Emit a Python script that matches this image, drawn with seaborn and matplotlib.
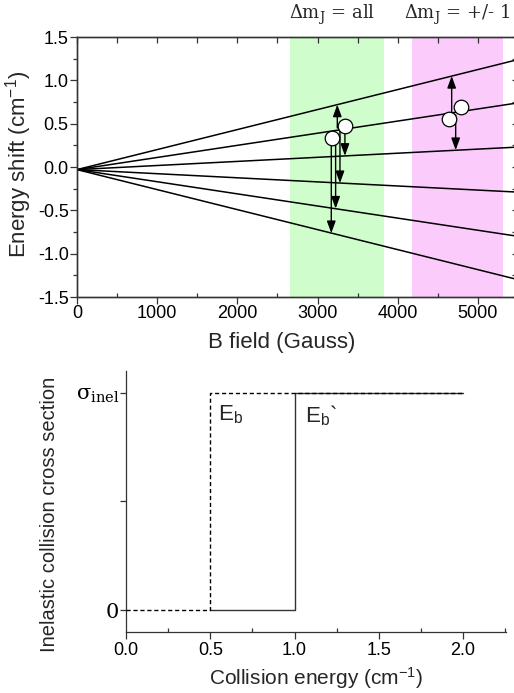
import numpy as np
import pandas as pd
import matplotlib
matplotlib.use("Agg")
import matplotlib.pyplot as plt
import seaborn as sns
from matplotlib.ticker import MultipleLocator

# ---------------- data ----------------
# Zeeman levels: straight lines from a common origin
level_B = [0, 5500]
level_start = -0.03
level_end = [1.24, 0.74, 0.23, -0.29, -0.80, -1.30]

# shaded field regions (Gauss)
green_band = (2650, 3825)
pink_band = (4175, 5310)

# circles (trapped states)
circle_B = [3184, 3337, 4641, 4787]
circle_E = [0.335, 0.476, 0.554, 0.688]

# transition arrows: x, start, end
arrow_B = [3246, 3341, 3279, 3225, 3171, 4672, 4722]
arrow_E0 = [0.45, 0.476, 0.476, 0.335, 0.335, 0.60, 0.60]
arrow_E1 = [0.72, 0.129, -0.186, -0.48, -0.763, 1.05, 0.195]

band_labels = ["Δm$\\mathregular{_J}$ = all", "Δm$\\mathregular{_J}$ = +/- 1"]

# step cross sections
coll_E_dash = [0.0, 0.5, 0.5, 2.0]
sigma_dash = [0, 0, 1, 1]
coll_E_solid = [0.5, 1.0, 1.0, 2.0]
sigma_solid = [0, 0, 1, 1]

# ---------------- style ----------------
sns.set_style("ticks")
plt.rcParams["font.family"] = ["Liberation Sans", "DejaVu Sans"]
plt.rcParams["axes.edgecolor"] = "#333333"
plt.rcParams["axes.linewidth"] = 0.9
plt.rcParams["xtick.color"] = "#333333"
plt.rcParams["ytick.color"] = "#333333"
plt.rcParams["xtick.labelcolor"] = "black"
plt.rcParams["ytick.labelcolor"] = "black"

SERIF = ["DejaVu Serif", "Liberation Serif"]

W, H = 514, 693
fig = plt.figure(figsize=(W / 100, H / 100), dpi=100)

def frac_box(l, t, r, b):
    return [l / W, 1 - b / H, (r - l) / W, (b - t) / H]

# ---------------- top panel ----------------
ax1 = fig.add_axes(frac_box(77, 37, 515.5, 297))
rows = []
for i, e in enumerate(level_end):
    rows.append({"B": level_B[0], "E": level_start, "level": i})
    rows.append({"B": level_B[1], "E": e, "level": i})
df_lev = pd.DataFrame(rows)

ax1.axvspan(*green_band, color="#cffdcb", lw=0, zorder=0)
ax1.axvspan(*pink_band, color="#fbccfb", lw=0, zorder=0)

sns.lineplot(data=df_lev, x="B", y="E", units="level", estimator=None,
             color="black", lw=1.1, ax=ax1, legend=False, zorder=2)

for x, y0, y1 in zip(arrow_B, arrow_E0, arrow_E1):
    ax1.annotate("", xy=(x, y1), xytext=(x, y0),
                 arrowprops=dict(arrowstyle="-|>,head_length=0.6,head_width=0.22",
                                 color="black", lw=1.0, mutation_scale=12,
                                 shrinkA=0, shrinkB=0), zorder=3)

sns.scatterplot(x=circle_B, y=circle_E, s=110, color="white",
                edgecolor="black", linewidth=0.9, ax=ax1, zorder=4)

ax1.set_xlim(0, 5468)
ax1.set_ylim(-1.5, 1.5)
ax1.xaxis.set_major_locator(MultipleLocator(1000))
ax1.xaxis.set_minor_locator(MultipleLocator(500))
ax1.yaxis.set_minor_locator(MultipleLocator(0.25))
ax1.set_yticks([-1.5, -1.0, -0.5, 0.0, 0.5, 1.0, 1.5])
ax1.set_yticklabels(["-1.5", "-1.0", "-0.5", "0.0", "0.5", "1.0", "1.5"])
ax1.tick_params(axis="both", which="major", labelsize=13, length=5, width=0.9,
                direction="out", pad=1)
ax1.tick_params(axis="both", which="minor", length=3, width=0.9)
ax1.tick_params(axis="x", which="minor", direction="in")
ax1.tick_params(axis="y", which="minor", direction="out")
ax1.set_xlabel("B field (Gauss)", fontsize=16)
ax1.set_ylabel("Energy shift (cm$\\mathregular{^{-1}}$)", fontsize=16)
ax1.xaxis.set_label_coords(0.467, -0.135)
ax1.yaxis.set_label_coords(-0.097, 0.51)
ax1.grid(False)

# inward ticks on top and right edges
axt = ax1.twiny()
axt.set_xlim(ax1.get_xlim())
axt.xaxis.set_major_locator(MultipleLocator(500))
axt.tick_params(axis="x", direction="in", length=4, width=0.9, labeltop=False)
axr = ax1.twinx()
axr.set_ylim(ax1.get_ylim())
axr.yaxis.set_major_locator(MultipleLocator(0.25))
axr.tick_params(axis="y", direction="in", length=3, width=0.9, labelright=False)

fig.text(332 / W, 1 - 15 / H, band_labels[0], fontsize=13, ha="center", va="center",
         family=SERIF)
fig.text(457 / W, 1 - 15 / H, band_labels[1], fontsize=13, ha="center", va="center",
         family=SERIF)

# ---------------- bottom panel ----------------
ax2 = fig.add_axes(frac_box(126, 371, 506, 632))
sns.lineplot(x=coll_E_dash, y=sigma_dash, sort=False, estimator=None, ax=ax2,
             color="black", lw=1.0, linestyle=(0, (3, 2)), zorder=3)
sns.lineplot(x=coll_E_solid, y=sigma_solid, sort=False, estimator=None, ax=ax2,
             color="#333333", lw=1.0, zorder=2)
ax2.set_xlim(0, 2.255)
ax2.set_ylim(-0.101, 1.10)
ax2.set_xticks([0.0, 0.5, 1.0, 1.5, 2.0])
ax2.set_xticklabels(["0.0", "0.5", "1.0", "1.5", "2.0"])
ax2.xaxis.set_minor_locator(MultipleLocator(0.25))
ax2.set_yticks([0, 0.5, 1])
ax2.set_yticklabels(["0", "", "σ$\\mathregular{_{inel}}$"], family=SERIF, fontsize=15)
ax2.tick_params(axis="x", which="major", labelsize=13, length=5, width=0.9,
                direction="out", pad=2)
ax2.tick_params(axis="x", which="minor", length=3, width=0.9, direction="in")
ax2.tick_params(axis="y", which="major", length=4, width=0.9, direction="out", pad=1)
sns.despine(ax=ax2)
ax2.set_xlabel("Collision energy (cm$\\mathregular{^{-1}}$)", fontsize=15)
ax2.set_ylabel("Inelastic collision cross section", fontsize=14.5)
ax2.xaxis.set_label_coords(0.5, -0.125)
ax2.yaxis.set_label_coords(-0.175, 0.45)
ax2.text(0.545, 0.95, "E$\\mathregular{_b}$", fontsize=16, ha="left", va="top")
ax2.text(1.06, 0.95, "E$\\mathregular{_b}$`", fontsize=16, ha="left", va="top")
ax2.grid(False)

fig.savefig("out.png", dpi=100)
